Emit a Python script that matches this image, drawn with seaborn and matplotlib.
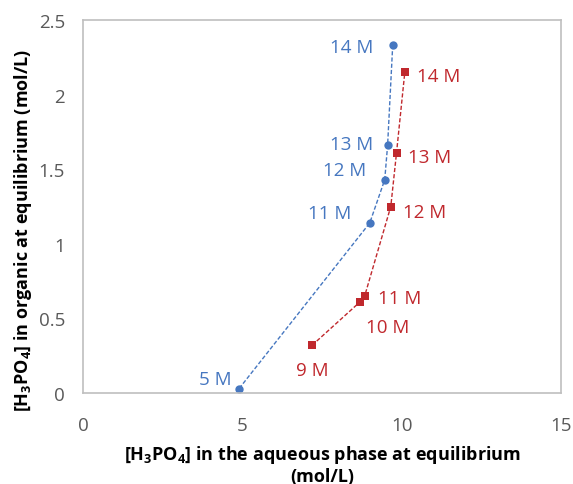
import matplotlib
matplotlib.use("Agg")
import matplotlib.pyplot as plt
import seaborn as sns
import pandas as pd

sns.set_theme(style="white")
plt.rcParams['font.family'] = ['Open Sans', 'DejaVu Sans']
plt.rcParams['mathtext.fontset'] = 'custom'
plt.rcParams['mathtext.rm'] = 'Open Sans:bold'
plt.rcParams['mathtext.default'] = 'rm'

# Data
blue_labels = ["5 M", "11 M", "12 M", "13 M", "14 M"]
blue_x = [4.9, 9.0, 9.47, 9.56, 9.72]
blue_y = [0.03, 1.14, 1.43, 1.66, 2.33]

red_labels = ["9 M", "10 M", "11 M", "12 M", "13 M", "14 M"]
red_x = [7.19, 8.69, 8.84, 9.66, 9.84, 10.1]
red_y = [0.32, 0.61, 0.65, 1.25, 1.61, 2.15]

blue = '#4677C0'
red = '#C0282D'

df = pd.concat([
    pd.DataFrame({'x': blue_x, 'y': blue_y, 'series': 'A'}),
    pd.DataFrame({'x': red_x, 'y': red_y, 'series': 'B'}),
])

fig = plt.figure(figsize=(5.73, 4.85), dpi=100)
ax = fig.add_axes([0.1449, 0.1876, 0.834, 0.769])

sns.lineplot(data=df, x='x', y='y', hue='series', style='series',
             palette={'A': blue, 'B': red}, markers={'A': 'o', 'B': 's'},
             dashes={'A': (3, 1.5), 'B': (3, 1.5)}, sort=False,
             markersize=6, markeredgewidth=0, linewidth=1.0,
             legend=False, ax=ax)

# Labels: offsets in points
blue_off = [(-17, 7), (-29, 7), (-29, 7), (-26, 0.7), (-29.5, -1.5)]
for lab, x, y, off in zip(blue_labels, blue_x, blue_y, blue_off):
    ax.annotate(lab, (x, y), xytext=off, textcoords='offset points',
                color=blue, fontsize=13.5, ha='center', va='center')
red_off = [(0, -18), (20, -18), (25, -1.5), (24.5, -4), (24, -3), (24.5, -3)]
for lab, x, y, off in zip(red_labels, red_x, red_y, red_off):
    ax.annotate(lab, (x, y), xytext=off, textcoords='offset points',
                color=red, fontsize=13.5, ha='center', va='center')

ax.set_xlim(0, 15)
ax.set_ylim(0, 2.5)
ax.set_xticks([0, 5, 10, 15])
ax.set_yticks([0, 0.5, 1, 1.5, 2, 2.5])
ax.set_xticklabels(['0', '5', '10', '15'])
ax.set_yticklabels(['0', '0.5', '1', '1.5', '2', '2.5'])
ax.tick_params(axis='both', colors='#595959', labelsize=13.5, length=0)
ax.tick_params(axis='x', pad=16.5)
ax.tick_params(axis='y', pad=13)
for s in ax.spines.values():
    s.set_color('#BFBFBF')
    s.set_linewidth(1.2)

ax.set_xlabel('[H$_3$PO$_4$] in the aqueous phase at equilibrium\n(mol/L)',
              fontsize=13, fontweight='bold', color='black', linespacing=1.1)
ax.set_ylabel('[H$_3$PO$_4$] in organic at equilibrium (mol/L)',
              fontsize=13, fontweight='bold', color='black')
ax.xaxis.set_label_coords(0.5, -0.135)
ax.yaxis.set_label_coords(-0.103, 0.44)

fig.savefig('out.png', dpi=100)
